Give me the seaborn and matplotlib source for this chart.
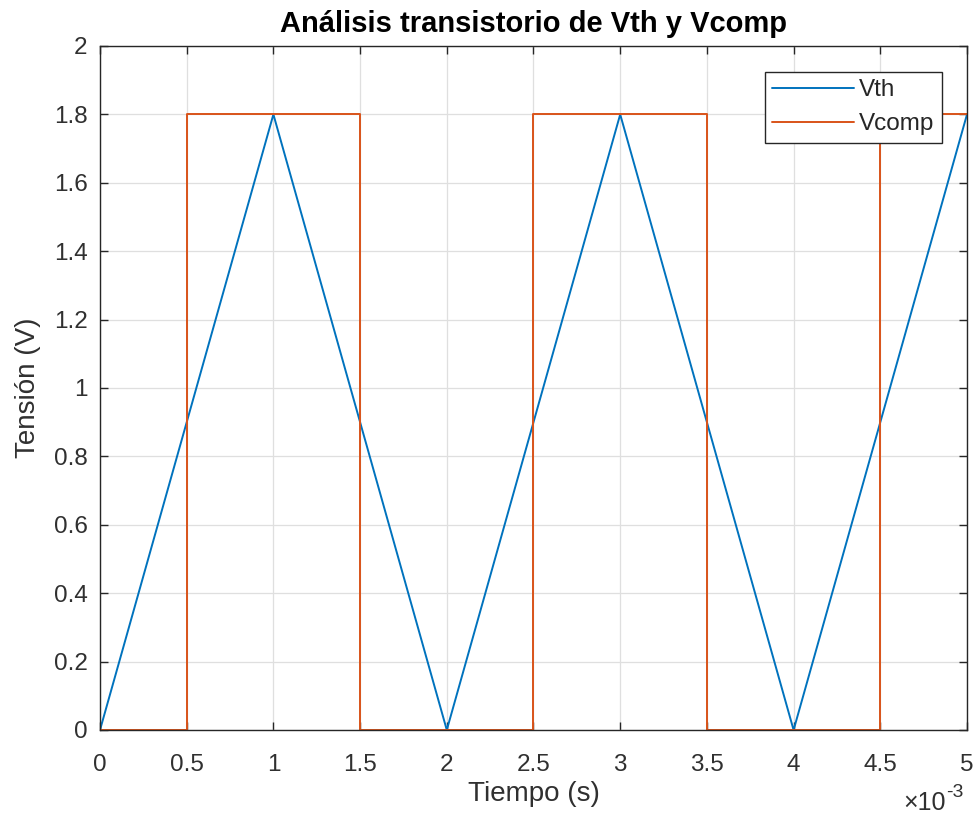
import numpy as np
import pandas as pd
import matplotlib
matplotlib.use("Agg")
import matplotlib.pyplot as plt
import seaborn as sns

# Data (time in seconds)
t_vth = [0.0, 0.001, 0.002, 0.003, 0.004, 0.005]
v_vth = [0.0, 1.8, 0.0, 1.8, 0.0, 1.8]
t_vcomp = [0.0, 0.0005, 0.0005, 0.0015, 0.0015, 0.0025, 0.0025, 0.0035, 0.0035, 0.0045, 0.0045, 0.005]
v_vcomp = [0.0, 0.0, 1.8, 1.8, 0.0, 0.0, 1.8, 1.8, 0.0, 0.0, 1.8, 1.8]
x_ticks = [0, 0.0005, 0.001, 0.0015, 0.002, 0.0025, 0.003, 0.0035, 0.004, 0.0045, 0.005]
x_ticklabels = ["0", "0.5", "1", "1.5", "2", "2.5", "3", "3.5", "4", "4.5", "5"]
y_ticks = [0, 0.2, 0.4, 0.6, 0.8, 1, 1.2, 1.4, 1.6, 1.8, 2]
y_ticklabels = ["0", "0.2", "0.4", "0.6", "0.8", "1", "1.2", "1.4", "1.6", "1.8", "2"]

sns.set_theme(style="white")
plt.rcParams['font.family'] = ['Liberation Sans', 'DejaVu Sans']

W, H = 978, 818
fig = plt.figure(figsize=(W / 100, H / 100), dpi=100)
ax = fig.add_axes([100 / W, 1 - 730 / H, 867 / W, 684 / H])

df_vth = pd.DataFrame({"t": t_vth, "v": v_vth})
df_vc = pd.DataFrame({"t": t_vcomp, "v": v_vcomp})
sns.lineplot(data=df_vth, x="t", y="v", ax=ax, color="#0072BD", lw=1.4,
             sort=False, estimator=None, label="Vth")
sns.lineplot(data=df_vc, x="t", y="v", ax=ax, color="#D95319", lw=1.4,
             sort=False, estimator=None, label="Vcomp")

ax.set_xlim(0, 0.005)
ax.set_ylim(0, 2)
ax.set_xticks(x_ticks)
ax.set_xticklabels(x_ticklabels)
ax.set_yticks(y_ticks)
ax.set_yticklabels(y_ticklabels)
ax.grid(True, color="#dfdfdf", lw=0.9)
ax.set_axisbelow(True)
for s in ax.spines.values():
    s.set_color("#262626")
    s.set_linewidth(1.0)
ax.tick_params(direction="in", length=6, width=1.0, color="#262626",
               labelsize=17.5, labelcolor="#303030", top=True, right=True,
               bottom=True, left=True)
ax.tick_params(axis="x", pad=17.5)
ax.tick_params(axis="y", pad=9)

ax.set_xlabel("Tiempo (s)", fontsize=20, color="#303030")
ax.set_ylabel("Tensión (V)", fontsize=20, color="#303030")
ax.xaxis.set_label_coords(0.5, (730 - 781) / 684)
ax.yaxis.set_label_coords((41 - 100) / 867, 0.5)
ax.set_title("Análisis transistorio de Vth y Vcomp", fontsize=21, fontweight="bold",
             color="black", pad=10)

fig.text(946 / W, 1 - 810 / H, "×10", ha="right", va="baseline",
         fontsize=18, color="#303030")
fig.text(946 / W, 1 - 797 / H, "-3", ha="left", va="baseline",
         fontsize=14, color="#303030")

leg = ax.legend(loc="upper right", bbox_to_anchor=((942 - 100) / 867, (730 - 72) / 684),
                borderaxespad=0, fancybox=False, framealpha=1, edgecolor="#262626",
                fontsize=17.5, handlelength=3.4, borderpad=0.3, labelspacing=0.49,
                handletextpad=0.2)
leg.get_frame().set_linewidth(1.0)

fig.savefig("out.png", dpi=100)
